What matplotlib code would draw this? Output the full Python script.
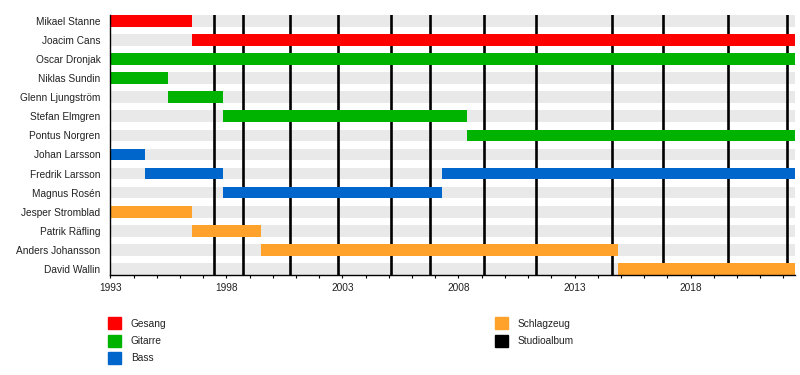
import matplotlib
matplotlib.use("Agg")
import matplotlib.pyplot as plt
from matplotlib.patches import Rectangle

plt.rcParams['font.family'] = ['Liberation Sans', 'DejaVu Sans']

# ---- data ----
members = ["Mikael Stanne", "Joacim Cans", "Oscar Dronjak", "Niklas Sundin",
           "Glenn Ljungström", "Stefan Elmgren", "Pontus Norgren", "Johan Larsson",
           "Fredrik Larsson", "Magnus Rosén", "Jesper Stromblad", "Patrik Räfling",
           "Anders Johansson", "David Wallin"]

start_year = 1993.0
end_year = 2022.5

# (member, role, start, end)
bar_member = ["Mikael Stanne", "Joacim Cans", "Oscar Dronjak", "Niklas Sundin",
              "Glenn Ljungström", "Stefan Elmgren", "Pontus Norgren", "Johan Larsson",
              "Fredrik Larsson", "Fredrik Larsson", "Magnus Rosén", "Jesper Stromblad",
              "Patrik Räfling", "Anders Johansson", "David Wallin"]
bar_role = ["Gesang", "Gesang", "Gitarre", "Gitarre",
            "Gitarre", "Gitarre", "Gitarre", "Bass",
            "Bass", "Bass", "Bass", "Schlagzeug",
            "Schlagzeug", "Schlagzeug", "Schlagzeug"]
bar_start = [1993.0, 1996.52, 1993.0, 1993.0,
             1995.47, 1997.84, 2008.36, 1993.0,
             1994.5, 2007.31, 1997.84, 1993.0,
             1996.52, 1999.5, 2014.87]
bar_end = [1996.52, 2022.5, 2022.5, 1995.47,
           1997.84, 2008.36, 2022.5, 1994.5,
           1997.84, 2022.5, 2007.31, 1996.52,
           1999.5, 2014.87, 2022.5]

albums = [1997.48, 1998.73, 2000.76, 2002.83, 2005.1, 2006.78, 2009.1,
          2011.34, 2014.62, 2016.82, 2019.62, 2022.17]

legend_col1 = ["Gesang", "Gitarre", "Bass"]
legend_col2 = ["Schlagzeug", "Studioalbum"]

colors = {"Gesang": "#ff0000", "Gitarre": "#00b300", "Bass": "#0066cc",
          "Schlagzeug": "#ffa22b", "Studioalbum": "#000000"}

# ---- figure ----
W, H = 800, 375
fig = plt.figure(figsize=(W / 100, H / 100), dpi=100)
ax = fig.add_axes([110.3 / W, 1 - 275 / H, (795 - 110.3) / W, (275 - 15) / H])

rows = list(range(len(members)))
bh = 0.61
ax.barh(rows, [end_year - start_year] * len(rows), left=start_year, height=bh,
        color="#e9e9e9", zorder=1)

for a in albums:
    ax.axvline(a, color="black", lw=1.9, zorder=2)

ypos = [members.index(m) for m in bar_member]
ax.barh(ypos, [e - s for s, e in zip(bar_start, bar_end)], left=bar_start,
        height=bh, color=[colors[r] for r in bar_role], zorder=3)

ax.set_xlim(start_year, end_year)
ax.set_ylim(13.31, -0.30)
ax.set_yticks(rows)
ax.set_yticklabels(members, fontsize=7.3, color="#222222")
ax.tick_params(axis="y", length=0, pad=7)

major = list(range(1993, 2023, 5))
ax.set_xticks(major)
ax.set_xticklabels([str(y) for y in major], fontsize=7.3, color="#222222")
ax.set_xticks(list(range(1993, 2023)), minor=True)
ax.tick_params(axis="x", which="both", length=2.5, width=0.8, pad=3, direction="out")

for side in ["top", "right"]:
    ax.spines[side].set_visible(False)
for side in ["left", "bottom"]:
    ax.spines[side].set_linewidth(1.0)
    ax.spines[side].set_zorder(4)

# ---- legend (manual) ----
def legend_item(x, y, name, tx):
    fig.patches.append(Rectangle((x / W, 1 - (y + 12) / H), 12.5 / W, 12 / H,
                                 transform=fig.transFigure, color=colors[name]))
    fig.text(tx / W, 1 - (y + 6.5) / H, name, fontsize=7.3, va="center",
             ha="left", color="#222222")

for i, n in enumerate(legend_col1):
    legend_item(108.3, 317.3 + i * 17.2, n, 130.7)
for i, n in enumerate(legend_col2):
    legend_item(495, 317.3 + i * 17.2, n, 517.3)

fig.savefig("out.png", dpi=100)
